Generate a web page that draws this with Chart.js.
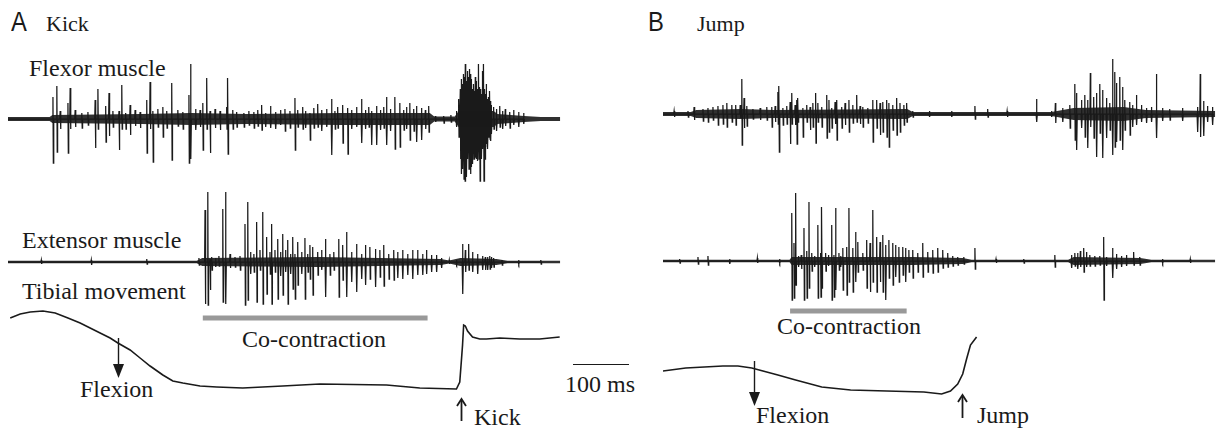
<!DOCTYPE html>
<html>
<head>
<meta charset="utf-8">
<script src="https://cdn.jsdelivr.net/npm/chart.js@4.4.0/dist/chart.umd.min.js"></script>
<style>
  body { margin: 0; width: 1221px; height: 429px; overflow: hidden; background: #fff; position: relative;
         font-family: "Liberation Serif", "Times New Roman", serif; color: #1a1a1a; }
  canvas { position: absolute; }
  .lbl { position: absolute; font-size: 24px; line-height: 24px; white-space: nowrap; }
  .head { font-size: 22px; line-height: 22px; }
  .panel { position: absolute; font-family: "Liberation Sans", Arial, sans-serif; font-size: 28px; line-height: 28px;
           transform-origin: left top; transform: scaleX(0.85); }
  #scalebar { position: absolute; height: 0; border-top: 1.5px solid #1a1a1a; }
</style>
</head>
<body>
<div class="panel" style="left:11px;top:8px">A</div>
<div class="lbl head" style="left:46px;top:13px">Kick</div>
<div class="panel" style="left:648px;top:8px">B</div>
<div class="lbl head" style="left:697px;top:13px">Jump</div>

<div class="lbl" style="left:29px;top:56px">Flexor muscle</div>
<div class="lbl" style="left:22px;top:228px">Extensor muscle</div>
<div class="lbl" style="left:22px;top:279px">Tibial movement</div>
<div class="lbl" style="left:242px;top:327px">Co-contraction</div>
<div class="lbl" style="left:80px;top:377px">Flexion</div>
<div class="lbl" style="left:474px;top:405px">Kick</div>
<div class="lbl" style="left:565px;top:372px">100 ms</div>
<div class="lbl" style="left:777px;top:314px">Co-contraction</div>
<div class="lbl" style="left:756px;top:403px">Flexion</div>
<div class="lbl" style="left:977px;top:403px">Jump</div>
<div id="scalebar" style="left:573px;top:364px"></div>

<canvas id="flexA"></canvas>
<canvas id="extA"></canvas>
<canvas id="tibA"></canvas>
<canvas id="flexB"></canvas>
<canvas id="extB"></canvas>
<canvas id="tibB"></canvas>

<script>
// time axis in ms, amplitudes in arbitrary units
const traceLength = 1000;
const scaleBarMs = 100;

// [time ms, up, down]
const flexorKickSpikes = [
  [81,22,44],[88,33,33],[94,8,10],[108,16,34],[112,31,10],[121,9,8],[133,6,9],[144,7,6],
  [157,19,29],[162,30,10],[176,13,23],[182,26,17],[189,8,8],[200,8,31],[205,34,10],[212,6,10],
  [220,14,16],[229,9,7],[238,7,9],[250,19,34],[256,37,10],[261,8,43],[270,10,8],[279,12,18],
  [286,8,9],[295,36,41],[306,9,7],[315,7,10],[326,24,44],[329,55,40],[338,10,11],[346,9,8],
  [351,16,31],[358,41,10],[364,8,34],[373,10,9],[382,8,11],[394,12,10],[396,41,35],[405,9,10],
  [412,7,8],[425,6,8],[434,8,6],[443,7,9],[450,9,7],[457,14,11],[464,6,8],[473,13,9],[482,7,10],
  [491,9,6],[499,10,12],[508,8,9],[517,21,31],[522,9,8],[531,12,10],[536,8,9],[544,6,21],
  [551,11,9],[558,15,8],[565,9,12],[574,10,8],[583,20,36],[589,8,10],[594,12,9],[603,14,24],
  [612,11,35],[619,9,10],[628,12,8],[637,20,24],[644,9,10],[650,12,8],[655,8,26],[664,13,26],
  [671,9,11],[677,12,9],[682,22,26],[689,10,12],[697,22,30],[706,16,28],[713,9,11],[718,12,10],
  [724,16,21],[731,10,12],[736,13,23],[745,11,21],[752,9,10],[758,13,13],
  [770,3,3],[785,3,4],[798,4,3],
  [808,8,8],[812,20,18],[815,30,40],[817,40,55],[819,35,50],[821,45,60],[823,42,62],[824,55,52],
  [826,38,58],[828,48,40],[830,42,50],[832,50,45],[833,45,55],[835,40,48],[837,30,45],[839,35,40],
  [841,28,38],[842,42,35],[844,38,40],[846,30,42],[848,55,40],[850,32,62],[851,30,35],[853,25,40],
  [855,48,30],[857,55,62],[859,30,40],[860,25,28],[862,35,25],[864,20,30],[866,22,18],[868,28,20],
  [869,18,22],[871,14,15],[875,12,10],[880,10,12],[886,13,8],[891,8,10],[896,10,7],[904,7,9],
  [911,9,6],[920,7,8],[929,6,5]
];

const extensorKickSpikes = [
  [60,2,2],[150,2,3],[250,3,2],[344,4,3],
  [355,52,42],[360,70,43],[364,3,28],[367,5,8],[374,4,5],[380,6,4],[387,53,40],[392,70,42],
  [400,8,6],[409,5,5],[418,6,8],[427,38,43],[432,60,38],[437,10,12],[443,8,10],[448,40,40],
  [454,12,8],[459,50,42],[466,25,32],[472,10,12],[475,38,42],[481,12,10],[486,23,37],[491,10,14],
  [495,28,33],[500,12,10],[504,22,42],[509,8,12],[513,25,27],[517,8,37],[522,20,23],[529,10,12],
  [535,24,37],[540,8,10],[544,17,17],[549,15,33],[558,10,13],[565,12,8],[572,23,35],[580,8,13],
  [587,10,8],[596,23,35],[603,17,18],[610,30,35],[619,10,20],[628,18,30],[637,8,17],[644,17,23],
  [652,15,17],[662,13,25],[670,12,15],[677,17,24],[686,8,17],[695,12,18],[702,10,16],[711,12,17],
  [720,8,13],[729,12,17],[738,12,13],[747,8,13],[754,12,12],[763,7,10],[772,7,10],[781,4,6],
  [795,2,2],[808,2,2],
  [819,18,32],[824,12,10],[830,18,8],[837,10,10],[846,8,12],[855,6,8],[860,5,8],[864,5,8],
  [868,6,7],[871,5,6],[875,4,5],[890,2,3],[920,2,2],[960,2,2]
];

// [time ms, tibial position]
const tibialKick = [
  [4,72],[22,76],[40,78],[63,79],[85,77],[108,72],[130,67],[148,62],[166,57],[184,52],[198,47],
  [220,40],[238,32],[256,24],[279,15],[297,9],[315,7],[346,4],[376,3],[423,2],[495,4],[562,6],
  [682,5],[742,2],[808,1],[814,8],[817,30],[819,45],[821,65],[824,64],[828,59],[837,53],[850,51],
  [862,51],[886,52],[922,51],[958,51],[994,53]
];

const flexorJumpSpikes = [
  [20,3,3],[45,3,3],[56,7,6],[72,5,7],[81,6,8],[90,7,6],[99,8,11],[108,9,10],[115,11,13],[124,9,8],
  [131,9,11],[139,9,4],[142,35,31],[146,16,14],[151,8,12],[162,5,5],[175,6,6],[187,7,6],[196,7,13],
  [202,8,8],[207,22,10],[209,28,38],[216,6,11],[223,8,10],[229,12,30],[232,21,10],[238,9,11],
  [241,14,30],[243,16,8],[252,6,23],[259,9,8],[265,7,16],[270,11,13],[275,21,29],[279,11,8],
  [286,7,13],[295,19,24],[299,14,18],[304,6,14],[310,12,10],[313,14,26],[322,7,14],[328,11,11],
  [335,14,18],[342,9,9],[349,19,8],[355,8,10],[360,7,13],[369,6,9],[378,14,28],[385,14,14],
  [391,11,21],[396,12,18],[403,14,23],[407,11,33],[414,9,16],[421,16,21],[427,11,18],[434,9,11],
  [439,11,8],[450,3,3],[480,3,3],[520,3,3],[562,8,5],[585,5,3],[620,3,3],[673,15,8],[700,3,3],
  [707,11,9],[720,6,8],[733,9,14],[742,30,26],[745,21,36],[754,14,14],[760,19,23],[765,14,34],
  [770,41,13],[776,17,24],[781,21,43],[787,30,19],[792,24,44],[799,16,24],[805,11,16],[810,55,41],
  [814,42,33],[817,31,28],[823,37,26],[828,27,36],[832,14,16],[841,12,21],[846,9,13],[853,19,11],
  [862,9,8],[871,6,9],[880,7,8],[889,40,24],[900,6,7],[913,5,6],[936,6,7],[963,7,18],[968,40,23],
  [974,13,22],[981,8,8],[990,7,11]
];

const extensorJumpSpikes = [
  [30,2,2],[63,4,3],[81,5,4],[120,2,3],[170,3,2],[210,2,2],
  [232,48,39],[236,18,37],[239,68,24],[244,5,6],[249,6,8],[254,33,39],[259,10,37],[263,59,27],
  [268,8,10],[273,5,6],[279,36,37],[284,8,36],[286,54,27],[293,8,10],[298,6,5],[304,36,39],
  [308,6,36],[311,53,29],[317,8,9],[320,5,6],[324,13,29],[331,14,34],[335,53,21],[342,13,31],
  [347,29,21],[351,19,11],[360,8,9],[367,21,27],[373,18,31],[378,51,21],[385,24,31],[391,19,21],
  [396,26,31],[401,16,39],[407,21,17],[414,18,24],[419,16,16],[425,14,21],[432,14,14],[437,13,21],
  [443,11,11],[450,11,17],[459,8,11],[468,18,16],[477,9,11],[486,11,12],[495,13,11],[504,11,7],
  [513,8,6],[522,5,5],[531,4,4],[542,4,3],[562,13,8],[600,2,2],[650,2,2],
  [706,6,6],[736,6,7],[742,8,5],[747,8,8],[752,10,6],[758,13,11],[763,9,6],[769,6,5],[778,5,5],
  [787,5,4],[794,24,39],[799,4,5],[810,13,17],[817,7,8],[826,5,6],[835,6,5],[848,9,4],[859,4,4],
  [900,2,2],[950,2,2]
];

const tibialJump = [
  [0,24],[41,27],[108,29],[135,29],[160,27],[207,20],[239,15],[286,8],[338,5],[403,4],[470,3],
  [502,1],[518,4],[531,11],[540,21],[547,36],[554,50],[565,58]
];

// background activity envelope [time ms, half width]
const flexorKickNoise = [[0,2],[75,2],[80,4],[240,5],[330,6],[430,5],[600,6],[760,6],[768,2.5],[805,2.5],[812,8],[875,8],[882,5],[930,3],[960,2],[995,2]];
const extensorKickNoise = [[0,1.3],[340,1.3],[350,4],[560,5],[780,3],[795,1.5],[815,4],[880,3],[900,1.3],[995,1.3]];
const flexorJumpNoise = [[0,2],[50,2],[60,4],[140,5],[200,4],[440,5],[450,2],[700,2],[740,6],[830,7],[870,4],[1000,3]];
const extensorJumpNoise = [[0,1.3],[228,1.3],[232,4],[450,4],[540,3],[556,1.3],[730,1.3],[740,4],[860,3],[880,1.3],[1000,1.3]];

// co-contraction periods [start ms, end ms]
const coContractionKick = [351, 756];
const coContractionJump = [229, 439];

// arrow times (ms)
const flexionKick = 198, kickOnset = 817;
const flexionJump = 164, jumpOnset = 538;

const ink = "#1a1a1a";

// turn a spike table into a line trace
function spikeTrace(spikes) {
  const pts = [{ x: 0, y: 0 }];
  spikes.forEach(s => {
    pts.push({ x: s[0] - 0.7, y: 0 }, { x: s[0], y: s[1] }, { x: s[0] + 0.7, y: -s[2] }, { x: s[0] + 1.4, y: 0 });
  });
  pts.push({ x: traceLength, y: 0 });
  return pts;
}

const arrowPlugin = {
  id: "arrows",
  afterDatasetsDraw(chart, args, opts) {
    const ctx = chart.ctx, x = chart.scales.x, y = chart.scales.y;
    (opts.items || []).forEach(a => {
      const px = Math.round(x.getPixelForValue(a.t)) + 0.5;
      const y0 = y.getPixelForValue(a.from), y1 = y.getPixelForValue(a.to);
      const dir = Math.sign(y1 - y0);
      ctx.save();
      ctx.strokeStyle = ink; ctx.fillStyle = ink; ctx.lineWidth = 1.4;
      if (a.head === "filled") {
        ctx.beginPath(); ctx.moveTo(px, y0); ctx.lineTo(px, y1 - dir * 12); ctx.stroke();
        ctx.beginPath(); ctx.moveTo(px, y1); ctx.lineTo(px - 5.5, y1 - dir * 14); ctx.lineTo(px + 5.5, y1 - dir * 14);
        ctx.closePath(); ctx.fill();
      } else {
        ctx.lineWidth = 1.8;
        ctx.beginPath(); ctx.moveTo(px, y0); ctx.lineTo(px, y1 + 1); ctx.stroke();
        ctx.lineWidth = 1.8;
        ctx.beginPath(); ctx.moveTo(px - 4.5, y1 - dir * 7); ctx.lineTo(px, y1); ctx.lineTo(px + 4.5, y1 - dir * 7); ctx.stroke();
      }
      ctx.restore();
    });
  }
};

function makeChart(id, box, yMin, yMax, datasets, arrows) {
  const c = document.getElementById(id);
  c.width = box[2]; c.height = box[3];
  c.style.left = box[0] + "px"; c.style.top = box[1] + "px";
  c.style.width = box[2] + "px"; c.style.height = box[3] + "px";
  return new Chart(c, {
    type: "line",
    data: { datasets: datasets },
    options: {
      responsive: false,
      animation: false,
      devicePixelRatio: 1,
      layout: { padding: 0 },
      elements: { point: { radius: 0 }, line: { tension: 0 } },
      plugins: { legend: { display: false }, tooltip: { enabled: false }, arrows: { items: arrows || [] } },
      scales: {
        x: { type: "linear", min: 0, max: traceLength, display: false },
        y: { type: "linear", min: yMin, max: yMax, display: false }
      }
    },
    plugins: [arrowPlugin]
  });
}

function emgDatasets(spikes, noise) {
  const end = traceLength - 5;
  return [
    // background activity band
    { data: noise.map(p => ({ x: Math.min(p[0], end), y: p[1] })), borderWidth: 0, fill: "+1", backgroundColor: "rgba(26,26,26,0.9)" },
    { data: noise.map(p => ({ x: Math.min(p[0], end), y: -p[1] })), borderWidth: 0, fill: false },
    { data: spikeTrace(spikes).filter(p => p.x <= end), borderColor: ink, borderWidth: 1.25 }
  ];
}

function tibialDatasets(curve, period, level) {
  return [
    { data: curve.map(p => ({ x: p[0], y: p[1] })), borderColor: ink, borderWidth: 1.6 },
    { data: [{ x: period[0], y: level }, { x: period[1], y: level }], borderColor: "#999", borderWidth: 5, borderCapStyle: "butt" }
  ];
}

// panel A (kick)
makeChart("flexA", [8, 49, 555, 140], -70, 70, emgDatasets(flexorKickSpikes, flexorKickNoise));
makeChart("extA", [8, 187, 555, 125], -50, 75, emgDatasets(extensorKickSpikes, extensorKickNoise));
makeChart("tibA", [8, 300, 555, 129], -39, 90, tibialDatasets(tibialKick, coContractionKick, 72), [
  { t: flexionKick, from: 52, to: 12, head: "filled" },
  { t: kickOnset, from: -31, to: -9, head: "open" }
]);

// panel B (jump)
makeChart("flexB", [663, 54, 555, 120], -60, 60, emgDatasets(flexorJumpSpikes, flexorJumpNoise));
makeChart("extB", [663, 189, 555, 117], -45, 72, emgDatasets(extensorJumpSpikes, extensorJumpNoise));
makeChart("tibB", [663, 300, 555, 129], -34, 95, tibialDatasets(tibialJump, coContractionJump, 84), [
  { t: flexionJump, from: 34, to: -11, head: "filled" },
  { t: jumpOnset, from: -23, to: 0, head: "open" }
]);

// 100 ms scale bar, same ms-to-pixel ratio as the traces
document.getElementById("scalebar").style.width = (scaleBarMs * 555 / traceLength) + "px";
</script>
</body>
</html>
